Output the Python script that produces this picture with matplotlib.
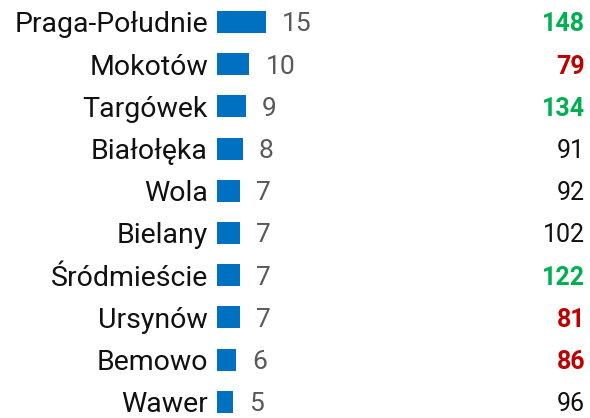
import matplotlib.pyplot as plt

# Dzielnice, liczba zdarzeń (słupki) i wskaźnik w prawej kolumnie
districts = ["Praga-Południe", "Mokotów", "Targówek", "Białołęka", "Wola",
             "Bielany", "Śródmieście", "Ursynów", "Bemowo", "Wawer"]
counts = [15, 10, 9, 8, 7, 7, 7, 7, 6, 5]
totals = [148, 79, 134, 91, 92, 102, 122, 81, 86, 96]
# status: 1 = powyżej normy (zielony), -1 = poniżej (czerwony), 0 = bez wyróżnienia
status = [1, -1, 1, 0, 0, 0, 1, -1, -1, 0]

BLUE = "#0070C0"
GREEN = "#00B050"
RED = "#C00000"
GRAY = "#595959"

plt.rcParams["font.family"] = ["Roboto", "DejaVu Sans"]

fig = plt.figure(figsize=(5.9, 4.18), dpi=100)
ax = fig.add_axes([217 / 590, 0, 1 - 217 / 590, 1])

y = list(range(len(districts)))
ax.barh(y, counts, height=0.52, color=BLUE)

ax.set_xlim(0, (590 - 217) / 3.25)
ax.set_ylim(9.384, -0.521)

ax.set_yticks(y, districts, fontsize=20.5, color="#111111")
ax.tick_params(axis="y", length=0, pad=6.5)
ax.set_xticks([])
for s in ax.spines.values():
    s.set_visible(False)

# liczby przy słupkach
for i, v in enumerate(counts):
    ax.annotate(str(v), (v, i), xytext=(11.5, 0), textcoords="offset points",
                ha="left", va="center_baseline", fontsize=19, color=GRAY)

# prawa kolumna z wartościami
tr = ax.get_yaxis_transform()
xr = (585 - 217) / (590 - 217)
for i, (t, st) in enumerate(zip(totals, status)):
    if st == 1:
        ax.text(xr, i, str(t), transform=tr, ha="right", va="center_baseline",
                fontsize=18, color=GREEN, fontweight="bold")
    elif st == -1:
        ax.text(xr, i, str(t), transform=tr, ha="right", va="center_baseline",
                fontsize=18, color=RED, fontweight="bold")
    else:
        ax.text(xr, i, str(t), transform=tr, ha="right", va="center_baseline",
                fontsize=18, color="#111111")

fig.savefig("out.png", dpi=100)
